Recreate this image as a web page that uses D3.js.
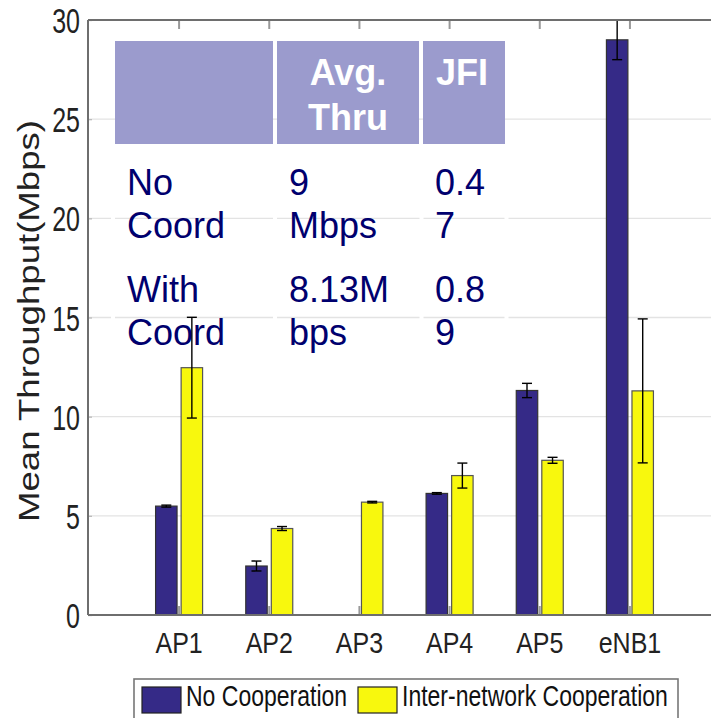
<!DOCTYPE html>
<html>
<head>
<meta charset="utf-8">
<script src="https://cdn.jsdelivr.net/npm/d3@7"></script>
<style>
  html, body { margin: 0; padding: 0; background: #fff; }
  svg { display: block; font-family: "Liberation Sans", Arial, sans-serif; }
</style>
</head>
<body>
<svg id="chart" width="711" height="718"></svg>
<script>
// ---------- data ----------
const categories = ["AP1", "AP2", "AP3", "AP4", "AP5", "eNB1"];
const seriesNames = ["No Cooperation", "Inter-network Cooperation"];
const noCoopMean = [5.49, 2.47, 0, 6.13, 11.32, 29.0];
const noCoopErr = [0.05, 0.25, 0, 0.04, 0.36, 1.0];
const coopMean = [12.47, 4.36, 5.69, 7.03, 7.80, 11.30];
const coopErr = [2.54, 0.10, 0.04, 0.63, 0.15, 3.63];
const yTicks = [0, 5, 10, 15, 20, 25, 30];
const yLabel = "Mean Throughput(Mbps)";
const tableHeader = [[""], ["Avg.", "Thru"], ["JFI"]];
const tableRows = [
  [["No", "Coord"], ["9", "Mbps"], ["0.4", "7"]],
  [["With", "Coord"], ["8.13M", "bps"], ["0.8", "9"]]
];
const colors = ["#352a87", "#f8f80d"];

(function () {
// ---------- layout ----------
const svg = d3.select("#chart");
const pL = 88, pT = 20, pB = 615, pR = 760;

const x = d3.scaleBand().domain(categories).range([134, 134 + 6 * 90.17]).padding(0);
const xs = d3.scaleBand().domain(seriesNames).range([-23.5, 23.5]).paddingInner(0.16);
const y = d3.scaleLinear().domain([0, 30]).range([pB, pT]);

const data = categories.map((c, i) => ({
  cat: c,
  vals: [
    { s: seriesNames[0], m: noCoopMean[i], e: noCoopErr[i], k: 0 },
    { s: seriesNames[1], m: coopMean[i], e: coopErr[i], k: 1 }
  ]
}));

svg.append("defs").append("clipPath").attr("id", "plotclip")
  .append("rect").attr("x", -200).attr("y", pT).attr("width", 1200).attr("height", pB - pT);

// gridlines
svg.append("g").selectAll("line").data(yTicks.filter(t => t > 0 && t < 30)).join("line")
  .attr("x1", pL).attr("x2", pR)
  .attr("y1", d => y(d)).attr("y2", d => y(d))
  .attr("stroke", "#e3e3e3").attr("stroke-width", 1.3);

// ---------- table overlay (background parts) ----------
const colX = [115, 277, 423, 505];
const headerTop = 41, headerBot = 144;
svg.append("g").selectAll("rect").data([0, 1, 2]).join("rect")
  .attr("x", i => colX[i])
  .attr("width", i => (i < 2 ? colX[i + 1] - 4 : colX[3]) - colX[i])
  .attr("y", headerTop).attr("height", headerBot - headerTop)
  .attr("fill", "#9b9bcd");
svg.append("g").selectAll("line").data([113, 275, 421.5, 506.5]).join("line")
  .attr("x1", d => d).attr("x2", d => d)
  .attr("y1", headerBot).attr("y2", 360)
  .attr("stroke", "#fff").attr("stroke-width", 4);

// ---------- bars ----------
const groups = svg.append("g").selectAll("g").data(data).join("g")
  .attr("transform", d => `translate(${x(d.cat) + x.bandwidth() / 2},0)`);

groups.selectAll("rect").data(d => d.vals.filter(v => v.m > 0)).join("rect")
  .attr("x", v => xs(v.s))
  .attr("width", xs.bandwidth())
  .attr("y", v => y(v.m))
  .attr("height", v => y(0) - y(v.m))
  .attr("fill", v => colors[v.k])
  .attr("stroke", v => v.k === 0 ? "#333" : "#555")
  .attr("stroke-width", 1.2);

// error bars
const eb = groups.append("g").attr("clip-path", "url(#plotclip)");
eb.selectAll("g").data(d => d.vals.filter(v => v.m > 0)).join("g").each(function (v) {
  const g = d3.select(this);
  const cx = xs(v.s) + xs.bandwidth() / 2;
  const y1 = y(v.m + v.e), y2 = y(v.m - v.e);
  g.append("line").attr("x1", cx).attr("x2", cx).attr("y1", y1).attr("y2", y2)
    .attr("stroke", "#000").attr("stroke-width", 1.4);
  [y1, y2].forEach(yy => g.append("line").attr("x1", cx - 5).attr("x2", cx + 5)
    .attr("y1", yy).attr("y2", yy).attr("stroke", "#000").attr("stroke-width", 1.4));
});

// ---------- axes ----------
const axisColor = "#6e6e6e";
const yAxis = svg.append("g").attr("transform", `translate(${pL},0)`)
  .call(d3.axisLeft(y).tickValues(yTicks).tickSizeInner(-4).tickSizeOuter(0).tickFormat(d3.format("d")));
yAxis.select(".domain").remove();
yAxis.selectAll(".tick line").attr("stroke", "#bbb").attr("stroke-width", 1.3);
yAxis.selectAll(".tick text")
  .attr("x", null).attr("dy", null)
  .attr("transform", "translate(-8,12.5) scale(1,1.4)")
  .attr("text-anchor", "end")
  .attr("fill", "#222").style("font-size", "25px").style("font-family", "Liberation Sans, Arial, sans-serif");

const xAxis = svg.append("g").attr("transform", `translate(0,${pB})`)
  .call(d3.axisBottom(x).tickSizeInner(-9).tickSizeOuter(0));
xAxis.select(".domain").remove();
xAxis.selectAll(".tick line").attr("stroke", "#999").attr("stroke-width", 2);
xAxis.selectAll(".tick text")
  .attr("y", null).attr("dy", null)
  .attr("transform", "translate(0,38) scale(1,1.16)")
  .attr("fill", "#222").style("font-size", "25px").style("font-family", "Liberation Sans, Arial, sans-serif");

const xTop = svg.append("g").attr("transform", `translate(0,${pT})`)
  .call(d3.axisTop(x).tickSizeInner(-9).tickSizeOuter(0).tickFormat(""));
xTop.select(".domain").remove();
xTop.selectAll(".tick line").attr("stroke", "#999").attr("stroke-width", 2);

svg.append("line").attr("x1", pL).attr("x2", pR).attr("y1", pB).attr("y2", pB)
  .attr("stroke", axisColor).attr("stroke-width", 2);
svg.append("line").attr("x1", pL).attr("x2", pR).attr("y1", pT).attr("y2", pT)
  .attr("stroke", axisColor).attr("stroke-width", 2);
svg.append("line").attr("x1", pL).attr("x2", pL).attr("y1", pT).attr("y2", pB)
  .attr("stroke", axisColor).attr("stroke-width", 2);

svg.append("text")
  .attr("transform", "translate(39,321) rotate(-90) scale(1.22,1)")
  .attr("text-anchor", "middle")
  .attr("fill", "#222").style("font-size", "30px")
  .text(yLabel);

// ---------- table text ----------
const tHead = svg.append("g").attr("fill", "#fff").style("font-weight", "bold").style("font-size", "36px");
const hx = (colX[1] + colX[2] - 4) / 2;
tHead.append("g").selectAll("text").data(tableHeader[1]).join("text")
  .attr("x", hx).attr("y", (d, i) => 85 + i * 45).attr("text-anchor", "middle").text(d => d);
tHead.append("text").attr("x", 436).attr("y", 85).text(tableHeader[2][0]);

const textX = [127, 289, 435];
const rowBase = [195, 302];
const tBody = svg.append("g").attr("fill", "#00006e").style("font-size", "36px");
tableRows.forEach((row, r) => {
  row.forEach((cell, c) => {
    cell.forEach((line, l) => {
      tBody.append("text").attr("x", textX[c]).attr("y", rowBase[r] + l * 43).text(line);
    });
  });
});

// ---------- legend ----------
const lg = svg.append("g");
lg.append("rect").attr("x", 134).attr("y", 679).attr("width", 544).attr("height", 50)
  .attr("fill", "#fff").attr("stroke", "#777").attr("stroke-width", 1.6);
const legX = [142, 358];
seriesNames.forEach((s, i) => {
  lg.append("rect").attr("x", legX[i]).attr("y", 687).attr("width", 39).attr("height", 26)
    .attr("fill", colors[i]).attr("stroke", "#222").attr("stroke-width", 1.2);
  lg.append("text").attr("transform", `translate(${legX[i] + 44},706) scale(1,1.26)`)
    .attr("fill", "#111").style("font-size", "23px").text(s);
});
})();
</script>
</body>
</html>
